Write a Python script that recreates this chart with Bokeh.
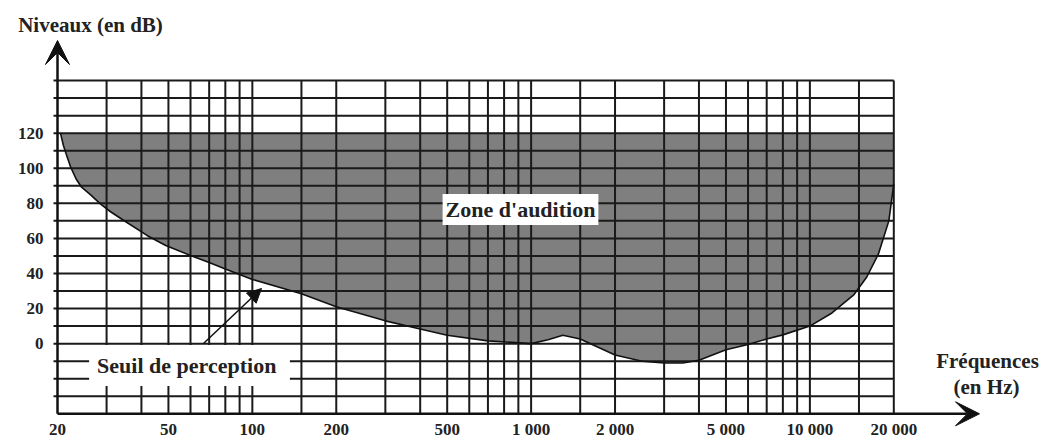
import math
from bokeh.plotting import figure
from bokeh.models import Range1d, Label, Arrow, VeeHead, NormalHead
from bokeh.core.properties import value
from bokeh.embed import file_html
from bokeh.resources import INLINE

# ---------------- data ----------------
# hearing threshold curve (Hz, dB)
freq = [20.5, 21, 21.5, 22.3, 23.3, 24.4, 26.3, 28.5, 31, 34.6, 41.9, 48.9, 60, 70, 80, 90, 100,
        150, 200, 300, 400, 500, 700, 1000, 1150, 1300, 1500, 2000, 2500, 3000, 3500, 4000,
        5000, 6000, 7000, 8000, 10000, 12000, 14400, 16000, 17600, 19200, 20000]
seuil = [120, 113, 108, 100.6, 94, 89.2, 84.8, 79.7, 75.2, 70.2, 61.7, 56, 50.3, 46.2, 42.6, 39.4, 36.6,
         28.5, 21, 13, 8.3, 4.8, 1.6, 0, 2.2, 4.8, 2.7, -6.5, -10, -11, -11, -9.5,
         -3.5, -0.5, 2.7, 5, 10, 17.5, 28, 38, 51, 70, 91]
upper = 120  # top of the "zone d'audition"

x_ticks = [20, 50, 100, 200, 500, 1000, 2000, 5000, 10000, 20000]
x_tick_labels = ["20", "50", "100", "200", "500", "1 000", "2 000", "5 000", "10 000", "20 000"]
y_ticks = [0, 20, 40, 60, 80, 100, 120]
y_tick_labels = ["0", "20", "40", "60", "80", "100", "120"]

v_grid = [30, 40, 50, 60, 70, 80, 90, 100, 150, 200, 300, 400, 500, 600, 700, 800, 900,
          1000, 1500, 2000, 3000, 4000, 5000, 6000, 7000, 8000, 9000, 10000, 15000, 20000]
h_grid = [-30, -20, -10, 0, 10, 20, 30, 40, 50, 60, 70, 80, 90, 100, 110, 120, 130, 140, 150]

F_MIN, F_MAX = 20, 20000
DB_MIN, DB_MAX = -40, 150

# ---------------- layout (picture pixels) ----------------
W, H = 1049, 439
PX_F0, PX_F1 = 57.0, 893.3          # x of 20 Hz and 20 000 Hz
K = (PX_F1 - PX_F0) / 3.0
Y0, S = 343.15, 1.754              # y of 0 dB, pixels per dB
TICK = 4                           # tick length left of the y axis, px


def fx(px):
    return 10 ** (math.log10(F_MIN) + (px - PX_F0) / K)


def fy(py):
    return (Y0 - py) / S


p = figure(width=W, height=H, x_axis_type="log",
           x_range=Range1d(fx(0), fx(W)), y_range=Range1d(fy(H), fy(0)),
           output_backend="svg", toolbar_location=None, min_border=0,
           x_axis_location=None, y_axis_location=None)
p.grid.visible = False
p.outline_line_color = None
p.background_fill_color = "white"
p.border_fill_color = "white"

# filled hearing zone
p.varea(x=freq, y1=seuil, y2=[upper] * len(freq), fill_color="#7f7f7f")

# grid
p.segment(x0=v_grid, y0=[DB_MIN] * len(v_grid), x1=v_grid, y1=[DB_MAX] * len(v_grid),
          line_color="#1a1a1a", line_width=2)
p.segment(x0=[fx(PX_F0 - TICK)] * len(h_grid), y0=h_grid, x1=[F_MAX] * len(h_grid), y1=h_grid,
          line_color="#1a1a1a", line_width=2)

# threshold curve
p.line(freq, seuil, line_color="#111111", line_width=1.6)

# axes with arrows
p.add_layout(Arrow(end=VeeHead(size=24, fill_color="#111111", line_color="#111111"),
                   x_start=F_MIN, y_start=DB_MIN, x_end=fx(979), y_end=DB_MIN,
                   line_color="#111111", line_width=2.5))
p.add_layout(Arrow(end=VeeHead(size=24, fill_color="#111111", line_color="#111111"),
                   x_start=F_MIN, y_start=DB_MIN, x_end=F_MIN, y_end=fy(40),
                   line_color="#111111", line_width=2.5))

FONT = value("Liberation Serif")

# tick labels
p.text(x=x_ticks, y=[fy(429)] * len(x_ticks), text=x_tick_labels, text_font=FONT,
       text_font_style="bold", text_font_size="17px", text_align="center",
       text_baseline="middle", text_color="#222222")
p.text(x=[fx(43)] * len(y_ticks), y=y_ticks, text=y_tick_labels, text_font=FONT,
       text_font_style="bold", text_font_size="17px", text_align="right",
       text_baseline="middle", text_color="#222222")

# axis titles
p.text(x=[fx(90)], y=[fy(24)], text=["Niveaux (en dB)"], text_font=FONT,
       text_font_style="bold", text_font_size="21px", text_align="center",
       text_baseline="middle", text_color="#222222")
p.text(x=[fx(987), fx(986)], y=[fy(360), fy(386)], text=["Fréquences", "(en Hz)"],
       text_font=FONT, text_font_style="bold", text_font_size="21px",
       text_align="center", text_baseline="middle", text_color="#222222")

# annotations
p.add_layout(Label(x=fx(520), y=fy(209), text="Zone d'audition",
                   text_font="Liberation Serif", text_font_style="bold",
                   text_font_size="22px", text_align="center", text_baseline="middle",
                   text_color="#222222", background_fill_color="white", padding=3))
p.add_layout(Label(x=fx(189), y=fy(365), text="Seuil  de perception",
                   text_font="Liberation Serif", text_font_style="bold",
                   text_font_size="22px", text_align="center", text_baseline="middle",
                   text_color="#222222", background_fill_color="white", padding=8))
p.add_layout(Arrow(end=NormalHead(size=14, fill_color="#111111", line_color="#111111"),
                   x_start=fx(203), y_start=fy(343), x_end=fx(261), y_end=fy(288),
                   line_color="#111111", line_width=1.5))

open("out.html", "w").write(file_html(p, INLINE))
